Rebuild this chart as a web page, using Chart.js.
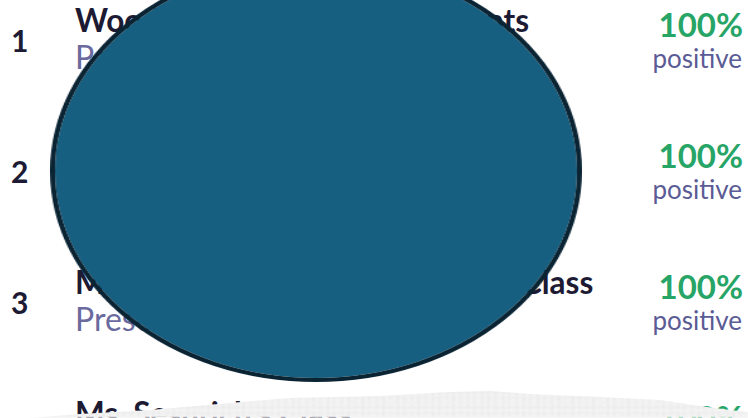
<!DOCTYPE html>
<html>
<head>
<meta charset="utf-8">
<script src="https://cdn.jsdelivr.net/npm/chart.js@4/dist/chart.umd.min.js"></script>
<style>
    html, body {
        margin: 0;
        padding: 0;
        width: 748px;
        height: 418px;
        overflow: hidden;
        background: #ffffff;
        font-family: Lato, "Noto Sans", sans-serif;
    }
    .row {
        position: absolute;
        left: 0;
        width: 748px;
        height: 131px;
    }
    .rank {
        position: absolute;
        left: 11px;
        top: 22px;
        font-size: 30px;
        font-weight: 700;
        color: #1d1a33;
    }
    .name {
        position: absolute;
        left: 75px;
        top: 1px;
        font-size: 31.5px;
        font-weight: 700;
        color: #1d1a33;
        white-space: nowrap;
    }
    .sub {
        position: absolute;
        left: 75px;
        top: 37px;
        font-size: 32px;
        color: #6a6a9e;
        white-space: nowrap;
    }
    .pct {
        position: absolute;
        right: 5px;
        top: 4px;
        font-size: 33px;
        font-weight: 700;
        color: #27a567;
    }
    .lbl {
        position: absolute;
        right: 6px;
        top: 42px;
        font-size: 26px;
        color: #5b5b95;
    }
    #paper {
        position: absolute;
        left: 0;
        top: 388px;
        width: 748px;
        height: 30px;
        background:
            radial-gradient(ellipse at 30% 40%, #f6f6f6 0 2px, transparent 3px),
            radial-gradient(ellipse at 70% 70%, #e9e9e9 0 1px, transparent 2px),
            radial-gradient(ellipse at 50% 50%, #f3f3f3 0 2px, transparent 3px),
            linear-gradient(#ededed, #f1f1f1);
        background-size: 7px 5px, 5px 7px, 11px 9px, 100% 100%;
        clip-path: polygon(0px 30px, 30px 30px, 80px 26px, 150px 22px, 230px 15px, 290px 10px, 380px 8px, 450px 4px, 490px 3px, 530px 6px, 600px 9px, 660px 12px, 700px 18px, 730px 22px, 748px 24px, 748px 30px);
        filter: blur(1px);
        z-index: 2;
    }
    #pieBox {
        position: absolute;
        left: 105px;
        top: -40px;
        width: 422px;
        height: 422px;
        transform: scaleX(1.2607);
        transform-origin: center center;
        z-index: 3;
    }
</style>
</head>
<body>
<div id="list"></div>
<div id="paper"></div>
<div id="pieBox"><canvas id="pie"></canvas></div>
<script>
// list rows behind the chart
const ranks = ['1', '2', '3', '4'];
const names = ['Woodbridge Elementary Parents', 'Mr. Thompson\'s Second Grade', 'Ms. Washington\'s Kindergarten Class', 'Ms. Sesurich\'s Class'];
const subtitles = ['Parent Group', 'Preschool', 'Preschool', 'Preschool'];
const percents = ['100%', '100%', '100%', '100%'];
const percentLabels = ['positive', 'positive', 'positive', 'positive'];

// the chart itself: one slice (outline ring + fill, so no seam line is drawn)
const pieLabels = ['positive'];
const pieValues = [100];

const list = document.getElementById('list');
ranks.forEach((rank, i) => {
    const row = document.createElement('div');
    row.className = 'row';
    row.style.top = (i * 131) + 'px';
    row.innerHTML =
        `<div class="rank">${rank}</div>` +
        `<div class="name">${names[i]}</div>` +
        `<div class="sub">${subtitles[i]}</div>` +
        `<div class="pct">${percents[i]}</div>` +
        `<div class="lbl">${percentLabels[i]}</div>`;
    list.appendChild(row);
});

const ctx = document.getElementById('pie').getContext('2d');
new Chart(ctx, {
    type: 'pie',
    data: {
        labels: pieLabels,
        datasets: [
            {
                // outline
                data: pieValues,
                backgroundColor: '#0b2434',
                borderWidth: 0,
                weight: 4
            },
            {
                // fill
                data: pieValues,
                backgroundColor: '#175f80',
                borderWidth: 0,
                weight: 207
            }
        ]
    },
    options: {
        responsive: true,
        maintainAspectRatio: false,
        animation: false,
        layout: { padding: 0 },
        plugins: {
            legend: { display: false },
            tooltip: { enabled: false }
        }
    }
});
</script>
</body>
</html>
